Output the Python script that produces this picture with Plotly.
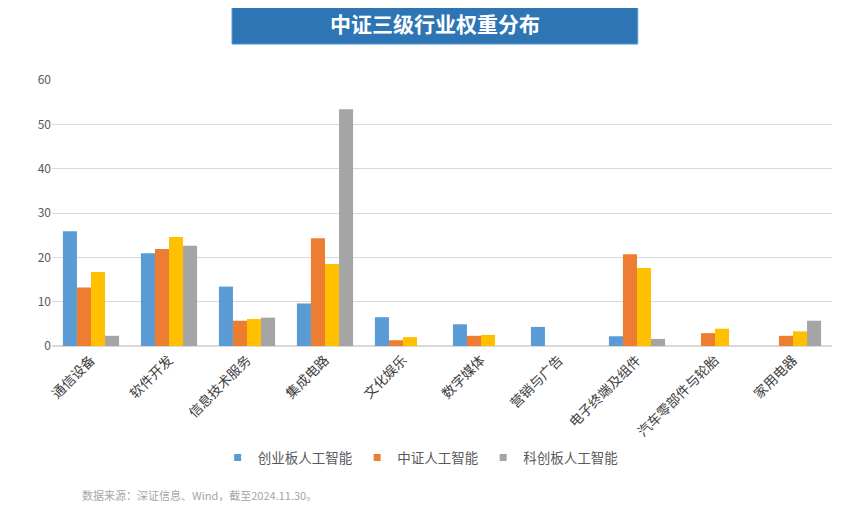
import plotly.graph_objects as go

categories = ["通信设备", "软件开发", "信息技术服务", "集成电路", "文化娱乐",
              "数字媒体", "营销与广告", "电子终端及组件", "汽车零部件与轮胎", "家用电器"]
s_cyb = [25.9, 20.9, 13.4, 9.6, 6.5, 4.9, 4.3, 2.2, 0, 0]
s_zz = [13.2, 21.9, 5.7, 24.3, 1.3, 2.3, 0, 20.7, 2.9, 2.3]
s_other = [16.7, 24.6, 6.1, 18.5, 2.0, 2.5, 0, 17.6, 3.9, 3.3]
s_kcb = [2.3, 22.6, 6.4, 53.4, 0, 0, 0, 1.6, 0, 5.7]

names = ["创业板人工智能", "中证人工智能", "其他人工智能", "科创板人工智能"]
colors = ["#5B9BD5", "#ED7D31", "#FFC000", "#A5A5A5"]
series = [s_cyb, s_zz, s_other, s_kcb]
show = [True, True, False, True]

FONT = "Noto Sans CJK SC"
fig = go.Figure()
for n, c, s in zip(names, colors, series):
    fig.add_trace(go.Bar(x=categories, y=s, name=n, marker_color=c,
                         marker_line_width=0, showlegend=False, legendgroup=n))
# legend entries drawn as small squares
for n, c, sh in zip(names, colors, show):
    if sh:
        fig.add_trace(go.Scatter(x=[None], y=[None], mode="markers", name=n,
                                 legendgroup=n,
                                 marker=dict(symbol="square", size=7, color=c)))

fig.update_layout(
    width=867, height=513,
    margin=dict(l=44, r=43, t=72, b=175, autoexpand=False),
    paper_bgcolor="white", plot_bgcolor="white",
    barmode="group", bargap=0.28, bargroupgap=0,
    font=dict(family=FONT, color="#595959"),
    xaxis=dict(tickangle=-45, tickfont=dict(size=13.5, color="#404040", family=FONT),
               showline=True, linecolor="#D9D9D9", linewidth=1, ticks="",
               automargin=False),
    yaxis=dict(range=[0, 60], dtick=10, showgrid=True, gridcolor="#D9D9D9",
               gridwidth=1, zeroline=True, zerolinecolor="#D9D9D9",
               tickfont=dict(size=12, color="#595959", family=FONT), ticks="",
               automargin=False),
    legend=dict(orientation="h", x=0.472, xanchor="center", y=-0.42, yanchor="middle",
                font=dict(size=13.5, color="#595959", family=FONT), itemwidth=30,
                traceorder="normal", tracegroupgap=0),
    showlegend=True,
)

fig.add_shape(type="rect", xref="paper", yref="paper",
              x0=0.2308, x1=0.751, y0=1.135, y1=1.293,
              fillcolor="#2E75B6", line=dict(color="#5B9BD5", width=1), layer="above")
fig.add_annotation(text="<b>中证三级行业权重分布</b>", xref="paper", yref="paper",
                   x=(0.2308 + 0.751) / 2, y=1.214, showarrow=False,
                   font=dict(size=21, color="white", family=FONT),
                   xanchor="center", yanchor="middle")
fig.add_annotation(text="数据来源：深证信息、Wind，截至2024.11.30。", xref="paper", yref="paper",
                   x=0.036, y=-0.56, showarrow=False, xanchor="left", yanchor="middle",
                   font=dict(size=11, color="#A6A6A6", family=FONT))

fig.write_html("out.html")
